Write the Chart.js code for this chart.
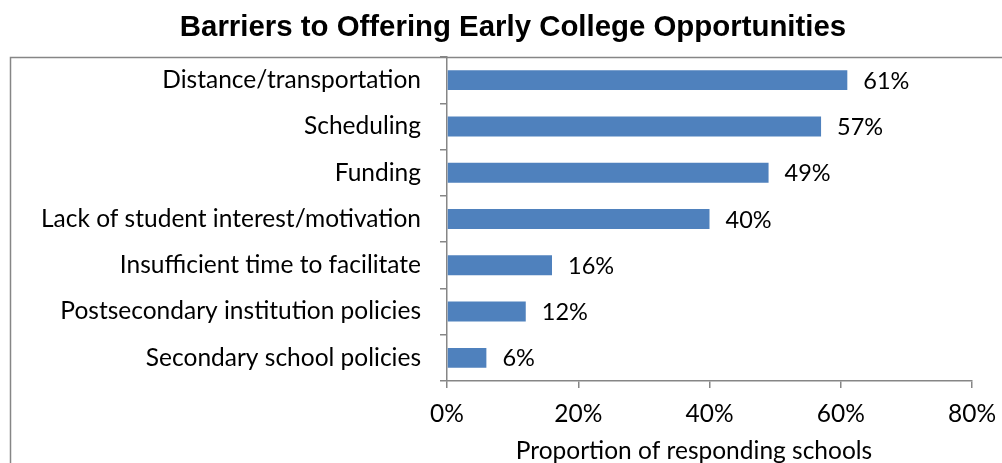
<!DOCTYPE html>
<html>
<head>
<meta charset="utf-8">
<script src="https://cdn.jsdelivr.net/npm/chart.js@4/dist/chart.umd.min.js"></script>
<style>
  html, body { margin: 0; padding: 0; background: #fff; }
  #wrap { width: 1002px; height: 463px; }
</style>
</head>
<body>
<div id="wrap"><canvas id="barrierChart" width="1002" height="463"></canvas></div>
<script>
// Barriers to early college, share of responding schools
const categories = [
  'Distance/transportation',
  'Scheduling',
  'Funding',
  'Lack of student interest/motivation',
  'Insufficient time to facilitate',
  'Postsecondary institution policies',
  'Secondary school policies'
];
const percents = [61, 57, 49, 40, 16, 12, 6];
const xTicks = [0, 20, 40, 60, 80];
const xTitle = 'Proportion of responding schools';

const labelFont = { family: 'Lato', size: 24.5 };
const valueFont = { family: 'Lato', size: 23.5 };
const axisGrey = '#868686';

// frame, title and axis title, drawn by hand
const framePlugin = {
  id: 'frame',
  beforeDraw(chart) {
    const c = chart.ctx;
    c.save();
    c.fillStyle = '#fff';
    c.fillRect(0, 0, chart.width, chart.height);
    c.strokeStyle = axisGrey;
    c.lineWidth = 1.5;
    c.strokeRect(10.5, 57.5, 1010, 430);
    c.fillStyle = '#000';
    c.font = 'bold 29.4px "Liberation Sans", Arial';
    c.textAlign = 'center';
    c.textBaseline = 'middle';
    c.fillText('Barriers to Offering Early College Opportunities', 513, 28);
    c.font = labelFont.size + 'px ' + labelFont.family;
    c.fillText(xTitle, 694, 451);
    c.restore();
  }
};

// value labels at the bar ends
const valuePlugin = {
  id: 'values',
  afterDatasetsDraw(chart) {
    const c = chart.ctx;
    const meta = chart.getDatasetMeta(0);
    c.save();
    c.fillStyle = '#000';
    c.font = valueFont.size + 'px ' + valueFont.family;
    c.textAlign = 'left';
    c.textBaseline = 'middle';
    meta.data.forEach((bar, i) => {
      c.fillText(percents[i] + '%', bar.x + 16, bar.y + 1);
    });
    c.restore();
  }
};

new Chart(document.getElementById('barrierChart'), {
  type: 'bar',
  data: {
    labels: categories,
    datasets: [{
      data: percents,
      backgroundColor: '#4F81BD',
      borderWidth: 0,
      barPercentage: 0.43,
      categoryPercentage: 1
    }]
  },
  options: {
    indexAxis: 'y',
    responsive: false,
    animation: false,
    layout: { padding: { top: 57, right: 30, left: 0, bottom: 0 } },
    plugins: {
      legend: { display: false },
      tooltip: { enabled: false }
    },
    scales: {
      x: {
        min: 0,
        max: 80,
        afterBuildTicks(scale) {
          scale.ticks = xTicks.map(v => ({ value: v }));
        },
        afterFit(scale) {
          scale.height = 82;
          scale.paddingLeft = 0;
          scale.paddingRight = 0;
        },
        border: { color: axisGrey, width: 1.5 },
        grid: { drawOnChartArea: false, drawTicks: true, tickLength: 7, color: axisGrey, lineWidth: 1.5 },
        ticks: {
          color: '#000',
          font: labelFont,
          padding: 11,
          maxRotation: 0,
          callback: v => v + '%'
        }
      },
      y: {
        afterFit(scale) { scale.width = 447; },
        border: { color: axisGrey, width: 1.5 },
        grid: { drawOnChartArea: false, drawTicks: true, tickLength: 7, color: axisGrey, lineWidth: 1.5, offset: true },
        ticks: {
          color: '#000',
          font: labelFont,
          padding: 19,
          autoSkip: false
        }
      }
    }
  },
  plugins: [framePlugin, valuePlugin]
});
</script>
</body>
</html>
